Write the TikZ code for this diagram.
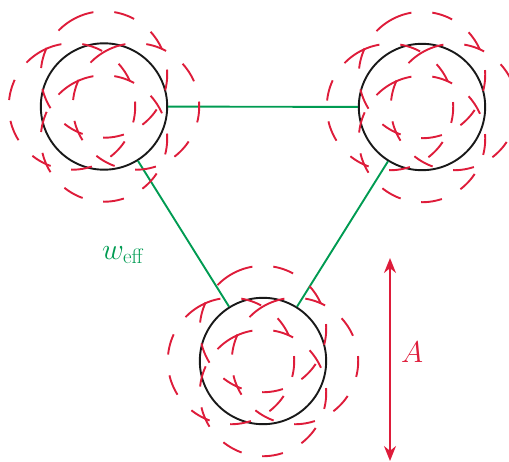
\RequirePackage{fix-cm}
\documentclass[tikz,border=0pt]{standalone}
\usetikzlibrary{arrows.meta,calc}
\definecolor{myred}{RGB}{222,28,58}
\definecolor{mygreen}{RGB}{0,155,82}
\tikzset{
  atom/.style={circle, draw=black!90, line width=1.9pt, minimum size=126.4pt, inner sep=0pt},
  bond/.style={draw=mygreen, line width=1.9pt},
  ghost/.style={draw=myred, line width=1.9pt, dash pattern=on 21pt off 21pt},
  amp/.style={draw=myred, line width=1.9pt, {Stealth[length=15pt,width=12pt]}-{Stealth[length=15pt,width=12pt]}},
  lab/.style={inner sep=0pt, font=\fontsize{30}{34}\selectfont}
}
\begin{document}
\begin{tikzpicture}[x=1pt,y=1pt]
\useasboundingbox (0,0) rectangle (509,-461);
\node[atom] (c1) at (104,-106.5) {};
\node[atom] (c2) at (422,-107) {};
\node[atom] (c3) at (263,-361) {};
\draw[bond] (c1) -- (c2);
\draw[bond] (c1) -- (c3);
\draw[bond] (c2) -- (c3);
\foreach \c in {c1,c2,c3}{
  \foreach \dx/\dy in {0/32,0/-32,-32/0,32/0}{
    \draw[ghost] ($(\c.center)+(\dx pt,\dy pt)+(117:63.2pt)$) arc[start angle=117, delta angle=360, radius=63.2pt];
  }
}
\coordinate (at) at (390,-258);
\coordinate (ab) at (390,-461);
\draw[amp] (at) -- (ab);
\node[lab, text=mygreen, anchor=base west] (w) at (102,-259) {$w_{\mathrm{eff}}$};
\node[lab, text=myred, anchor=base west] (A) at (401,-362) {$A$};
\end{tikzpicture}
\end{document}
